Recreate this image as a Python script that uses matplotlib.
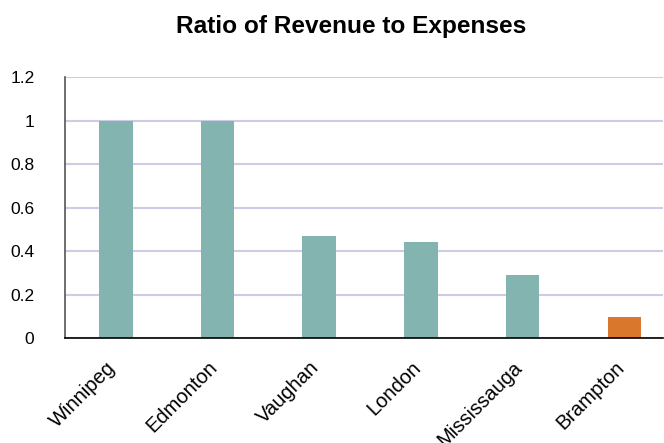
import matplotlib
matplotlib.use("Agg")
import matplotlib.pyplot as plt
from matplotlib.transforms import ScaledTranslation

cities = ["Winnipeg", "Edmonton", "Vaughan", "London", "Mississauga", "Brampton"]
ratios = [1.0, 1.0, 0.47, 0.445, 0.29, 0.10]
bar_colors = ["#84B4AF", "#84B4AF", "#84B4AF", "#84B4AF", "#84B4AF", "#D9782D"]
y_ticks = [0, 0.2, 0.4, 0.6, 0.8, 1, 1.2]
y_tick_labels = ["0", "0.2", "0.4", "0.6", "0.8", "1", "1.2"]

plt.rcParams["font.family"] = ["Liberation Sans", "DejaVu Sans"]

fig = plt.figure(figsize=(6.64, 4.43), dpi=100)
W, H = 664, 443
left_px, right_px, top_px, bottom_px = 65, 663, 77.3, 338.3
ax = fig.add_axes([left_px / W, 1 - bottom_px / H,
                   (right_px - left_px) / W, (bottom_px - top_px) / H])

x = list(range(len(cities)))
ax.bar(x, ratios, width=0.33, color=bar_colors, zorder=3)

ax.set_ylim(0, 1.2)
ax.set_xlim(-0.5, (right_px - left_px) / 101.7 - 0.5)
ax.set_yticks(y_ticks)
ax.set_yticklabels(y_tick_labels, fontsize=12.5)
ax.set_xticks(x)
ax.set_xticklabels(cities, fontsize=14.5, rotation=45, ha="right",
                   va="center", rotation_mode="anchor")
ax.tick_params(axis="both", length=0)
ax.tick_params(axis="x", pad=19)
ax.tick_params(axis="y", pad=22)
shift = ScaledTranslation(-3 / 100, 0, fig.dpi_scale_trans)
for lab in ax.get_xticklabels():
    lab.set_transform(lab.get_transform() + shift)

ax.yaxis.grid(True, color="#CCCCE6", linewidth=1.5, zorder=0)
ax.set_axisbelow(True)
for side in ("top", "right"):
    ax.spines[side].set_visible(False)
ax.spines["left"].set_color("#555555")
ax.spines["left"].set_linewidth(1.2)
ax.spines["bottom"].set_color("black")
ax.spines["bottom"].set_linewidth(1.2)
ax.spines["bottom"].set_zorder(4)

fig.text(351 / W, 1 - 26 / H, "Ratio of Revenue to Expenses",
         ha="center", va="center", fontsize=17.6, fontweight="bold")

fig.savefig("out.png", dpi=100)
